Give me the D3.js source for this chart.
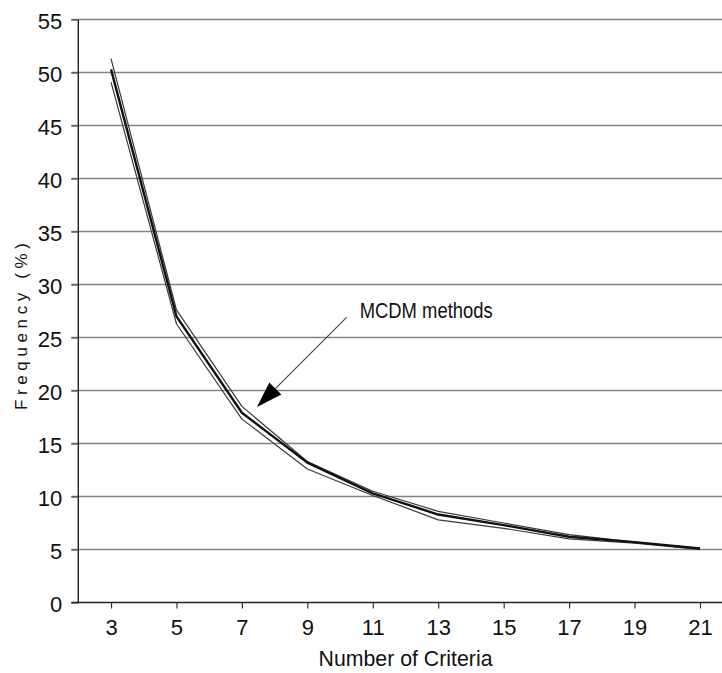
<!DOCTYPE html>
<html>
<head>
<meta charset="utf-8">
<script src="https://cdn.jsdelivr.net/npm/d3@7"></script>
<style>
  html, body { margin: 0; padding: 0; background: #fff; }
  svg { display: block; }
  text { font-family: "Liberation Sans", Arial, sans-serif; fill: #111; }
</style>
</head>
<body>
<svg id="chart" width="722" height="673"></svg>
<script>
// Number of criteria considered (x positions)
const criteria = [3, 5, 7, 9, 11, 13, 15, 17, 19, 21];

// Frequency (%) of the best alternative for each MCDM method
const methodA = [51.3, 27.6, 18.5, 13.3, 10.5, 8.6, 7.5, 6.4, 5.7, 5.1];
const methodB = [50.3, 27.0, 17.9, 13.2, 10.3, 8.3, 7.3, 6.2, 5.7, 5.1];
const methodC = [49.1, 26.3, 17.3, 12.6, 10.1, 7.8, 7.0, 6.0, 5.6, 5.0];

const yTicks = [0, 5, 10, 15, 20, 25, 30, 35, 40, 45, 50, 55];
const xTicks = [3, 5, 7, 9, 11, 13, 15, 17, 19, 21];

const annotationText = "MCDM methods";
const xTitle = "Number of Criteria";
const yTitle = "Frequency  (%)";

const FONT = "Liberation Sans, Arial, sans-serif";

const svg = d3.select("#chart");

const x = d3.scaleLinear().domain([2, 22]).range([78.3, 732.7]);
const y = d3.scaleLinear().domain([0, 55]).range([602.5, 19.5]);

// Horizontal gridlines, extended slightly left of the axis as tick marks
const grid = svg.append("g");
grid.selectAll("line")
  .data(yTicks.filter(d => d > 0))
  .join("line")
  .attr("x1", x(2) - 7)
  .attr("x2", 722)
  .attr("y1", d => y(d))
  .attr("y2", d => y(d))
  .attr("stroke", "#85857c")
  .attr("stroke-width", 1.5);

// Y axis
const yAxis = svg.append("g")
  .attr("transform", `translate(${x(2)},0)`)
  .call(d3.axisLeft(y).tickValues(yTicks).tickSize(7).tickPadding(9).tickFormat(d3.format("d")));
yAxis.select(".domain").attr("stroke", "#222").attr("stroke-width", 1.4).attr("d", `M0,${y(55)}V${y(0)}`);
yAxis.selectAll(".tick line").attr("stroke", "#555").attr("stroke-width", 1.3);
yAxis.selectAll(".tick text")
  .attr("font-size", 22)
  .attr("font-family", FONT)
  .attr("fill", "#111")
  .attr("dy", "0.4em");

// X axis
const xAxis = svg.append("g")
  .attr("transform", `translate(0,${y(0)})`)
  .call(d3.axisBottom(x).tickValues(xTicks).tickSize(6).tickPadding(11).tickFormat(d3.format("d")));
xAxis.select(".domain").attr("stroke", "#222").attr("stroke-width", 1.4).attr("d", `M${x(2) - 7},0H722`);
xAxis.selectAll(".tick line").attr("stroke", "#333").attr("stroke-width", 1.2);
xAxis.selectAll(".tick text")
  .attr("font-size", 22)
  .attr("font-family", FONT)
  .attr("fill", "#111");

// Series lines
const line = d3.line()
  .x((d, i) => x(criteria[i]))
  .y(d => y(d));

const series = [
  { values: methodC, width: 1.2, color: "#3a3a3a" },
  { values: methodA, width: 1.2, color: "#3a3a3a" },
  { values: methodB, width: 2.4, color: "#111" }
];

svg.append("g")
  .selectAll("path")
  .data(series)
  .join("path")
  .attr("d", d => line(d.values))
  .attr("fill", "none")
  .attr("stroke", d => d.color)
  .attr("stroke-width", d => d.width)
  .attr("stroke-linejoin", "round");

// Annotation arrow pointing at the curves
const tip = [x(7.46), y(18.45)];
const tail = [x(10.2), y(26.9)];
const dx = tip[0] - tail[0], dy = tip[1] - tail[1];
const len = Math.hypot(dx, dy);
const ux = dx / len, uy = dy / len;
const headLen = 26, headHalf = 8.5;
const base = [tip[0] - ux * headLen, tip[1] - uy * headLen];
const px = -uy, py = ux;

svg.append("line")
  .attr("x1", tail[0]).attr("y1", tail[1])
  .attr("x2", base[0]).attr("y2", base[1])
  .attr("stroke", "#444")
  .attr("stroke-width", 1.1);

svg.append("path")
  .attr("d", `M${tip[0]},${tip[1]}L${base[0] + px * headHalf},${base[1] + py * headHalf}L${base[0] - px * headHalf},${base[1] - py * headHalf}Z`)
  .attr("fill", "#000");

svg.append("text")
  .attr("x", x(10.6))
  .attr("y", y(26.8))
  .attr("font-size", 22)
  .attr("font-family", FONT)
  .attr("textLength", 133)
  .attr("lengthAdjust", "spacingAndGlyphs")
  .text(annotationText);

// Axis titles
svg.append("text")
  .attr("x", 318.5)
  .attr("y", 665.5)
  .attr("font-size", 22)
  .attr("font-family", FONT)
  .attr("textLength", 174)
  .attr("lengthAdjust", "spacingAndGlyphs")
  .text(xTitle);

svg.append("text")
  .attr("transform", "translate(27,410) rotate(-90)")
  .attr("x", 0)
  .attr("y", 0)
  .attr("font-size", 17)
  .attr("font-family", FONT)
  .attr("textLength", 167)
  .attr("lengthAdjust", "spacing")
  .text(yTitle);
</script>
</body>
</html>
